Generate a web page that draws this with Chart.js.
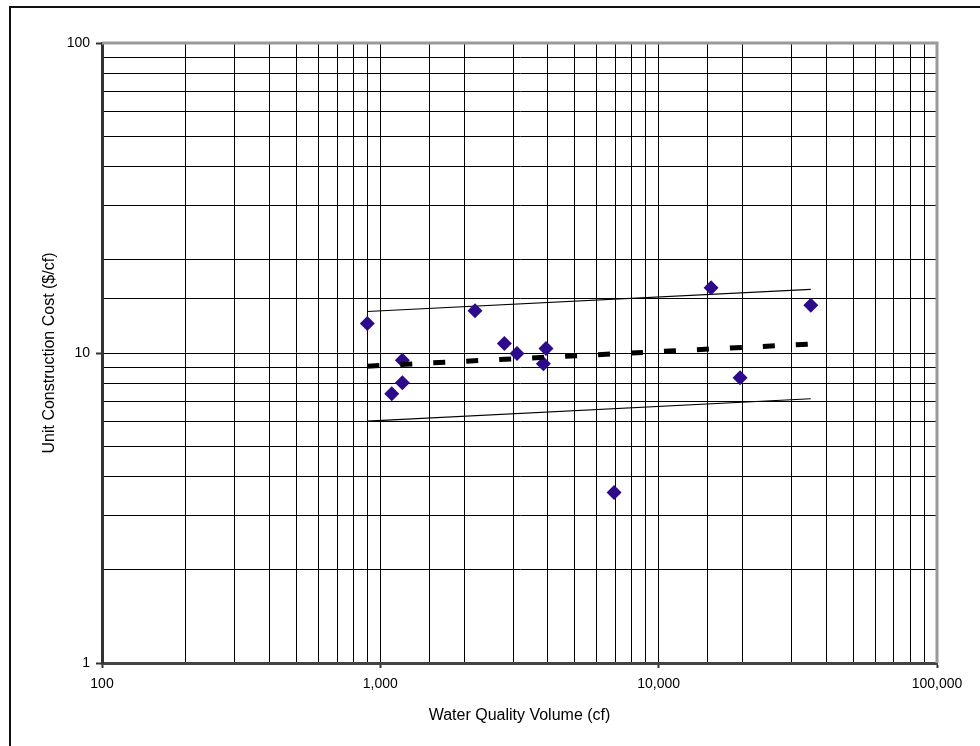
<!DOCTYPE html>
<html>
<head>
<meta charset="utf-8">
<script src="https://cdn.jsdelivr.net/npm/chart.js@4/dist/chart.umd.min.js"></script>
<style>
  html, body { margin: 0; padding: 0; background: #fff; }
  #c { display: block; }
</style>
</head>
<body>
<canvas id="c" width="980" height="746"></canvas>
<script>
// ---- data ----
const volumeCf = [898, 2188, 1099, 1200, 1200, 2790, 3098, 3938, 3852, 6914, 15430, 19610, 35200];
const unitCost = [12.45, 13.68, 7.39, 8.01, 9.48, 10.73, 9.96, 10.34, 9.23, 3.55, 16.23, 8.32, 14.26];
const fitX = [898, 35200];
const upperBound = [13.61, 16.03];
const trendLine = [9.07, 10.69];
const lowerBound = [6.03, 7.12];
const xTickLabels = {100: '100', 1000: '1,000', 10000: '10,000', 100000: '100,000'};
const yTickLabels = {1: '1', 10: '10', 100: '100'};
const xTitle = 'Water Quality Volume (cf)';
const yTitle = 'Unit Construction Cost ($/cf)';

const pts = (xs, ys) => xs.map((x, i) => ({x, y: ys[i]}));
const isPow10 = v => Math.abs(Math.log10(v) - Math.round(Math.log10(v))) < 1e-9;
const FAMILY = '"Liberation Sans", Arial, sans-serif';
const TICK_FONT = {family: FAMILY, size: 14};
const TITLE_FONT = {family: FAMILY, size: 16};

const framePlugin = {
  id: 'frame',
  beforeDraw(chart) {
    const ctx = chart.ctx;
    ctx.save();
    ctx.fillStyle = '#fff';
    ctx.fillRect(0, 0, chart.width, chart.height);
    ctx.strokeStyle = '#111';
    ctx.lineWidth = 2;
    ctx.strokeRect(10, 7, 1200, 1200);
    ctx.restore();
  },
  beforeDatasetsDraw(chart) {
    const {ctx, chartArea: a} = chart;
    ctx.save();
    ctx.strokeStyle = '#9a9a9a';
    ctx.lineWidth = 3;
    ctx.beginPath();
    ctx.moveTo(a.left, a.top);
    ctx.lineTo(a.right, a.top);
    ctx.lineTo(a.right, a.bottom);
    ctx.stroke();
    ctx.restore();
  }
};

new Chart(document.getElementById('c'), {
  type: 'scatter',
  data: {
    datasets: [
      {
        label: 'Trend',
        data: pts(fitX, trendLine),
        showLine: true,
        borderColor: '#000',
        borderWidth: 5,
        borderDash: [12, 21],
        borderCapStyle: 'butt',
        pointRadius: 0,
        order: 0
      },
      {
        label: 'Projects',
        data: pts(volumeCf, unitCost),
        pointStyle: 'rectRot',
        pointRadius: 7.5,
        backgroundColor: '#2D0A8C',
        borderColor: '#2D0A8C',
        borderWidth: 0,
        order: 1
      },
      {
        label: 'Upper',
        data: pts(fitX, upperBound),
        showLine: true,
        borderColor: '#000',
        borderWidth: 1.2,
        pointRadius: 0,
        order: 2
      },
      {
        label: 'Lower',
        data: pts(fitX, lowerBound),
        showLine: true,
        borderColor: '#000',
        borderWidth: 1.2,
        pointRadius: 0,
        order: 3
      }
    ]
  },
  options: {
    responsive: false,
    animation: false,
    devicePixelRatio: 1,
    layout: {padding: {left: 0, top: 43, right: 43, bottom: 0}},
    plugins: {legend: {display: false}, tooltip: {enabled: false}},
    scales: {
      x: {
        type: 'logarithmic',
        min: 100,
        max: 100000,
        afterFit(s) { s.height = 83; },
        grid: {
          color: '#000',
          lineWidth: 1,
          drawTicks: true,
          tickLength: 5,
          tickColor: c => (c.tick && isPow10(c.tick.value)) ? '#333' : 'rgba(0,0,0,0)',
          tickWidth: 2
        },
        border: {display: true, color: '#444', width: 3},
        ticks: {
          autoSkip: false,
          maxRotation: 0,
          padding: 8,
          color: '#000',
          font: TICK_FONT,
          callback: v => xTickLabels[v] !== undefined ? xTickLabels[v] : ''
        },
        title: {
          display: true,
          text: xTitle,
          color: '#000',
          font: TITLE_FONT,
          padding: {top: 0, bottom: 20.4}
        }
      },
      y: {
        type: 'logarithmic',
        min: 1,
        max: 100,
        afterFit(s) { s.width = 102; },
        grid: {
          color: '#000',
          lineWidth: 1,
          drawTicks: true,
          tickLength: 6,
          tickColor: c => (c.tick && isPow10(c.tick.value)) ? '#333' : 'rgba(0,0,0,0)',
          tickWidth: 2
        },
        border: {display: true, color: '#333', width: 3},
        ticks: {
          autoSkip: false,
          padding: 6,
          color: '#000',
          font: TICK_FONT,
          callback: v => yTickLabels[v] !== undefined ? yTickLabels[v] : ''
        },
        title: {
          display: true,
          text: yTitle,
          color: '#000',
          font: TITLE_FONT,
          padding: {top: 40.4, bottom: 0}
        }
      }
    }
  },
  plugins: [framePlugin]
});
</script>
</body>
</html>
